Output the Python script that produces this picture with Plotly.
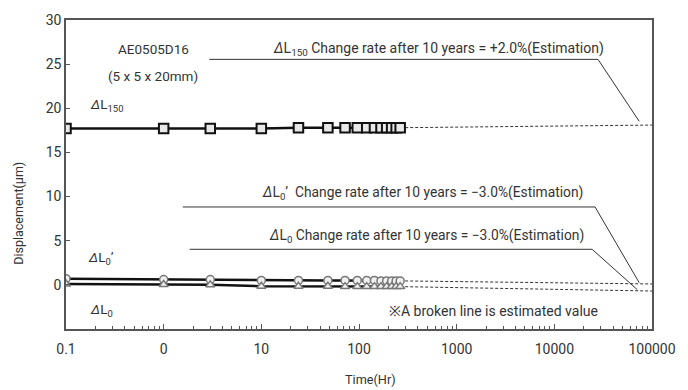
import plotly.graph_objects as go

# ---- data ----
time_hr = [0.1, 1, 3, 10, 24, 48, 72, 96, 120, 144, 168, 192, 216, 240, 264]
dL150 = [17.7, 17.7, 17.7, 17.7, 17.8, 17.8, 17.8, 17.8, 17.8, 17.8, 17.8, 17.8, 17.8, 17.8, 17.8]
dL0p = [0.7, 0.6, 0.6, 0.5, 0.5, 0.5, 0.5, 0.5, 0.5, 0.5, 0.45, 0.45, 0.45, 0.45, 0.45]
dL0 = [0.1, 0.05, 0.0, -0.15, -0.15, -0.15, -0.2, -0.2, -0.2, -0.2, -0.2, -0.2, -0.2, -0.2, -0.2]

est_time = [264, 100000]
est_dL150 = [17.8, 18.1]
est_dL0p = [0.45, 0.1]
est_dL0 = [-0.2, -0.7]

x_tickvals = [0.1, 1, 10, 100, 1000, 10000, 100000]
x_ticktext = ["0.1", "0", "10", "100", "1000", "10000", "100000"]
y_tickvals = [0, 5, 10, 15, 20, 25, 30]

FONT = "Roboto, Arial"
TXT = "#333333"

fig = go.Figure()

# estimated dashed lines
for ys in (est_dL150, est_dL0p, est_dL0):
    fig.add_trace(go.Scatter(x=est_time, y=ys, mode="lines",
                             line=dict(color="#333333", width=1, dash="3px,2px"),
                             showlegend=False, hoverinfo="skip"))

fig.add_trace(go.Scatter(x=time_hr, y=dL150, mode="lines+markers",
                         line=dict(color="#111111", width=2.5),
                         marker=dict(symbol="square", size=9.5, color="#e8e8e8",
                                     line=dict(color="#111111", width=2)),
                         showlegend=False))
fig.add_trace(go.Scatter(x=time_hr, y=dL0p, mode="lines+markers",
                         line=dict(color="#111111", width=2.5),
                         marker=dict(symbol="circle", size=8, color="#f0f0f0",
                                     line=dict(color="#777777", width=1.5)),
                         showlegend=False))
fig.add_trace(go.Scatter(x=time_hr, y=dL0, mode="lines+markers",
                         line=dict(color="#111111", width=2.5),
                         marker=dict(symbol="triangle-up", size=8, color="#f0f0f0",
                                     line=dict(color="#777777", width=1.5)),
                         showlegend=False))

# geometry of plot area in pixels
L, R, T, B = 66, 663, 15, 329
def px(x):
    return (x - L) / (R - L)
def py(y):
    return (B - y) / (B - T)

leaders = [
    [(212, 55), (608, 55), (650, 118)],
    [(185, 205), (605, 205), (650, 282)],
    [(192, 248), (602, 248), (648, 289)],
]
shapes = []
for pts in leaders:
    for (x0, y0), (x1, y1) in zip(pts[:-1], pts[1:]):
        shapes.append(dict(type="line", xref="paper", yref="paper",
                           x0=px(x0), y0=py(y0), x1=px(x1), y1=py(y1),
                           line=dict(color="#333333", width=1)))

texts = [
    (155, 44, "AE0505D16", 13.5, 0),
    (155, 72, "(5 x 5 x 20mm)", 13.5, 0),
    (107, 101, "<i>Δ</i>L<sub>150</sub>", 13.5, 0),
    (446, 44, "<i>Δ</i>L<sub>150</sub> Change rate after 10 years = +2.0%(Estimation)", 14, 0),
    (429, 191, "<i>Δ</i>L<sub>0</sub>’  Change rate after 10 years = −3.0%(Estimation)", 13.8, 0),
    (433, 234, "<i>Δ</i>L<sub>0</sub> Change rate after 10 years = −3.0%(Estimation)", 13.8, 0),
    (102, 257, "<i>Δ</i>L<sub>0</sub>’", 13.5, 0),
    (102, 310, "<i>Δ</i>L<sub>0</sub>", 13.5, 0),
    (502, 311, "※A broken line is estimated value", 14, 0),
    (376, 380, "Time(Hr)", 12.7, 0),
    (18, 211, "Displacement(μm)", 12.5, -90),
]
annotations = []
for x, y, t, s, ang in texts:
    annotations.append(dict(xref="paper", yref="paper", x=px(x), y=py(y), text=t,
                            showarrow=False, xanchor="center", yanchor="middle",
                            textangle=ang,
                            font=dict(family=FONT, size=s, color=TXT)))

minor_vals = [m * 10 ** e for e in range(-1, 5) for m in range(2, 10)]

fig.update_layout(
    width=688, height=390,
    margin=dict(l=L, r=688 - R, t=T, b=390 - B),
    paper_bgcolor="white", plot_bgcolor="white",
    font=dict(family=FONT, size=14, color=TXT),
    shapes=shapes, annotations=annotations,
    xaxis=dict(type="log", range=[-1, 5], tickvals=x_tickvals, ticktext=x_ticktext,
               ticks="inside", ticklen=5, tickcolor="#555555",
               minor=dict(tickvals=minor_vals, ticks="inside", ticklen=3, tickcolor="#555555"),
               showgrid=False, zeroline=False, showline=True, linecolor="#555555",
               linewidth=1.5, mirror=True, tickfont=dict(size=14),
               ticklabelstandoff=6),
    yaxis=dict(range=[-5, 30], tickvals=y_tickvals, ticks="inside", ticklen=4,
               tickcolor="#555555", showgrid=False, zeroline=False, showline=True,
               linecolor="#555555", linewidth=1.5, mirror=True,
               tickfont=dict(size=14)),
)

fig.write_html("out.html")
